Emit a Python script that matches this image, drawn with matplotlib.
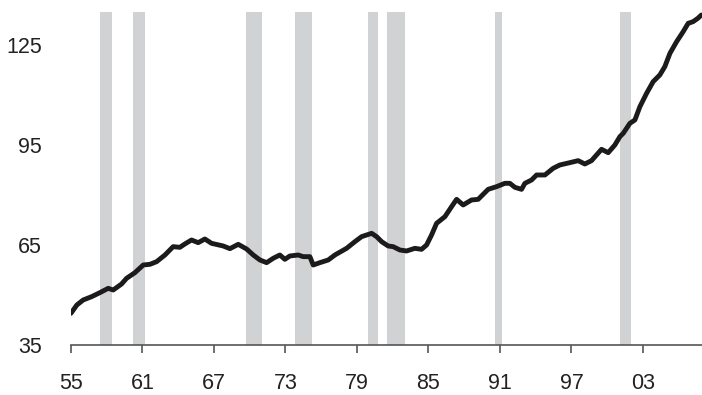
import matplotlib
matplotlib.use("Agg")
import matplotlib.pyplot as plt

plt.rcParams['font.family'] = ['Liberation Sans', 'DejaVu Sans']

# Series (year, index value)
years = [1955.0, 1955.5, 1956.03, 1956.74, 1957.43, 1958.13, 1958.55, 1959.25, 1959.67,
         1960.37, 1961.07, 1961.63, 1962.19, 1962.89, 1963.58, 1964.14, 1964.56, 1965.12,
         1965.68, 1966.24, 1966.8, 1967.78, 1968.34, 1969.04, 1969.74, 1970.3, 1970.86,
         1971.42, 1971.97, 1972.53, 1972.95, 1973.37, 1974.07, 1974.49, 1975.05, 1975.33,
         1975.89, 1976.59, 1977.15, 1978.13, 1978.83, 1979.39, 1980.23, 1980.65, 1981.07,
         1981.62, 1982.04, 1982.6, 1983.16, 1983.86, 1984.42, 1984.84, 1985.26, 1985.68,
         1986.38, 1986.94, 1987.36, 1987.91, 1988.61, 1989.17, 1990.01, 1990.71, 1991.41,
         1991.83, 1992.25, 1992.81, 1993.09, 1993.65, 1994.07, 1994.77, 1995.46, 1996.02,
         1996.86, 1997.56, 1998.12, 1998.68, 1999.52, 2000.08, 2000.64, 2001.06, 2001.34,
         2001.9, 2002.32, 2002.74, 2003.3, 2003.85, 2004.41, 2004.83, 2005.26, 2005.82,
         2006.37, 2006.79, 2007.2, 2007.6, 2007.9]
values = [44.5, 47.0, 48.5, 49.5, 50.7, 52.0, 51.5, 53.3, 55.0,
          56.7, 59.0, 59.2, 60.0, 62.0, 64.5, 64.3, 65.3, 66.5,
          65.7, 66.8, 65.5, 64.7, 63.9, 65.2, 63.8, 62.0, 60.5,
          59.7, 61.0, 62.0, 60.7, 61.7, 62.0, 61.5, 61.5, 59.0,
          59.7, 60.5, 62.0, 64.0, 66.0, 67.5, 68.5, 67.5, 66.0,
          64.7, 64.5, 63.5, 63.2, 64.0, 63.7, 65.0, 68.0, 71.5,
          73.5, 76.5, 78.7, 77.0, 78.5, 78.7, 81.7, 82.5, 83.5,
          83.5, 82.3, 81.7, 83.5, 84.5, 86.0, 86.0, 88.0, 89.0,
          89.7, 90.3, 89.3, 90.3, 93.7, 92.7, 95.0, 97.5, 98.5,
          101.5, 102.5, 106.5, 110.5, 114.0, 116.0, 118.5, 122.5, 126.0,
          129.0, 131.5, 132.0, 133.0, 134.0]

# Recession periods (start, end)
rec_start = [1957.43, 1960.2, 1969.68, 1973.8, 1979.94, 1981.5, 1990.57, 2001.06]
rec_end = [1958.41, 1961.18, 1971.0, 1975.2, 1980.73, 1983.0, 1991.2, 2002.0]

xticks = [1955, 1961, 1967, 1973, 1979, 1985, 1991, 1997, 2003]
xtick_labels = ['55', '61', '67', '73', '79', '85', '91', '97', '03']
yticks = [35, 65, 95, 125]
ytick_labels = ['35', '65', '95', '125']

fig = plt.figure(figsize=(7.02, 3.95), dpi=100)
ax = fig.add_axes([0.101, 0.1266, 0.899, 0.8439])

for s, e in zip(rec_start, rec_end):
    ax.axvspan(s, e, color='#d1d2d4', lw=0, zorder=1)

ax.plot(years, values, color='#1c1a1a', lw=3.5, solid_joinstyle='round',
        solid_capstyle='round', zorder=3)

ax.set_xlim(1955, 2007.95)
ax.set_ylim(35, 135)

ax.set_xticks(xticks)
ax.set_xticklabels(xtick_labels)
ax.set_yticks(yticks)
ax.set_yticklabels(ytick_labels)

for side in ['top', 'right', 'left']:
    ax.spines[side].set_visible(False)
ax.spines['bottom'].set_color('#555555')
ax.spines['bottom'].set_linewidth(1.2)

ax.tick_params(axis='x', direction='out', length=6, width=1.2, color='#555555',
               labelsize=15.5, labelcolor='#222222', pad=14)
ax.tick_params(axis='y', length=0, labelsize=15.5, labelcolor='#222222', pad=21)

fig.savefig('out.png', dpi=100)
